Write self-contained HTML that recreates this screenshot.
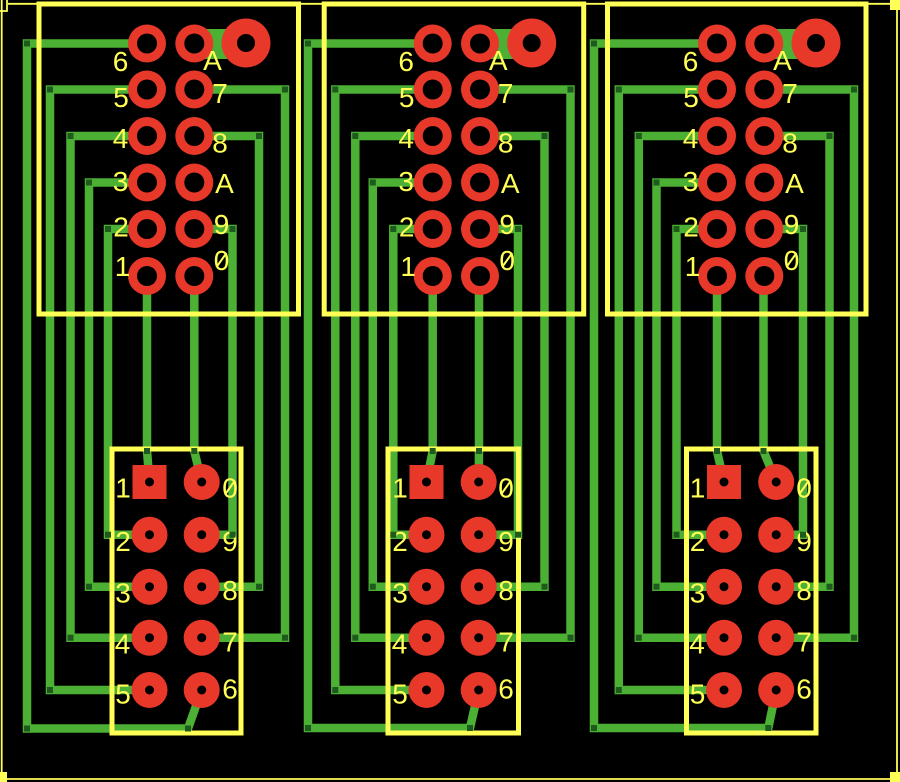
<!DOCTYPE html>
<html><head><meta charset="utf-8"><style>
html,body{margin:0;padding:0;background:#000;}
svg{display:block;}
text{font-family:"Liberation Sans",sans-serif;font-size:28px;fill:#ffff55;text-anchor:middle;}
</style></head><body>
<svg width="900" height="782" viewBox="0 0 900 782" xmlns="http://www.w3.org/2000/svg">
<rect width="900" height="782" fill="#000"/>
<!-- board outline -->
<g stroke="#ffff55" stroke-width="1.8" fill="none">
<line x1="8" y1="3.8" x2="897" y2="3.8"/>
<line x1="1.7" y1="0" x2="1.7" y2="779"/>
<line x1="897" y1="3.8" x2="897" y2="779"/>
<line x1="1.7" y1="779" x2="897" y2="779"/>
<polyline points="7,0 7,11 0,11"/>
</g>
<rect x="890" y="0" width="10" height="10" fill="#ffff55"/>
<rect x="0" y="772" width="7" height="10" fill="#ffff55"/>
<rect x="890" y="772" width="10" height="10" fill="#ffff55"/>

<!-- traces -->
<g stroke="#4cb034" stroke-width="8.5" fill="none" stroke-linejoin="miter" stroke-linecap="square">
<!-- unit 1 -->
<path d="M147,43.5 H27 V728.5 H188 L201.7,690"/>
<path d="M147,89.5 H50 V690 H149.5"/>
<path d="M147,136 H70.5 V637.7 H149.5"/>
<path d="M147,182.5 H89 V586.7 H149.5"/>
<path d="M147,229 H108 V534.7 H149.5"/>
<path d="M194.3,89.5 H285 V637.7 H201.7"/>
<path d="M194.3,136 H259 V586.7 H201.7"/>
<path d="M194.3,229 H232.5 V534.7 H201.7"/>
<path d="M147,276 V451 L149.5,482"/>
<path d="M194.3,276 V451 L201.7,482"/>
<!-- unit 2 -->
<path d="M432.7,43.5 H308 V728 H470 L478.7,690"/>
<path d="M432.7,89.5 H335.3 V690 H426.5"/>
<path d="M432.7,136 H355.3 V637.7 H426.5"/>
<path d="M432.7,182.5 H372.8 V586.7 H426.5"/>
<path d="M432.7,229 H393.3 V534.7 H426.5"/>
<path d="M480,89.5 H570.5 V637.7 H478.7"/>
<path d="M480,136 H544.5 V586.7 H478.7"/>
<path d="M480,229 H518 V534.7 H478.7"/>
<path d="M432.7,276 V451 L426.5,482"/>
<path d="M479,276 V451 L478.7,482"/>
<!-- unit 3 -->
<path d="M717,43.5 H594 V728 H768.3 L776.2,690"/>
<path d="M717,89.5 H618.8 V690 H724"/>
<path d="M717,136 H638.8 V637.7 H724"/>
<path d="M717,182.5 H656.5 V586.7 H724"/>
<path d="M717,229 H676.5 V534.7 H724"/>
<path d="M764.3,89.5 H854 V637.7 H776.2"/>
<path d="M764.3,136 H829.5 V586.7 H776.2"/>
<path d="M764.3,229 H803 V534.7 H776.2"/>
<path d="M717,276 V451 L724,482"/>
<path d="M763.5,276 V451 L776.2,482"/>
</g>

<!-- A to big pad connections -->
<rect x="194" y="29" width="52" height="30" fill="#4cb034"/>
<rect x="480" y="29" width="52" height="30" fill="#4cb034"/>
<rect x="764" y="29" width="52" height="30" fill="#4cb034"/>

<!-- top connector unit 1 -->
<g>
<g fill="#e8382a">
<circle cx="147" cy="43.5" r="19"/><circle cx="194.3" cy="43.5" r="19"/>
<circle cx="147" cy="89.5" r="19"/><circle cx="194.3" cy="89.5" r="19"/>
<circle cx="147" cy="136" r="19"/><circle cx="194.3" cy="136" r="19"/>
<circle cx="147" cy="182.5" r="19"/><circle cx="194.3" cy="182.5" r="19"/>
<circle cx="147" cy="229" r="19"/><circle cx="194.3" cy="229" r="19"/>
<circle cx="147" cy="276" r="19"/><circle cx="194.3" cy="276" r="19"/>
<circle cx="246" cy="43" r="24.5"/>
</g>
<g fill="#000">
<circle cx="147" cy="43.5" r="10"/><circle cx="194.3" cy="43.5" r="10"/>
<circle cx="147" cy="89.5" r="10"/><circle cx="194.3" cy="89.5" r="10"/>
<circle cx="147" cy="136" r="10"/><circle cx="194.3" cy="136" r="10"/>
<circle cx="147" cy="182.5" r="10"/><circle cx="194.3" cy="182.5" r="10"/>
<circle cx="147" cy="229" r="10"/><circle cx="194.3" cy="229" r="10"/>
<circle cx="147" cy="276" r="10"/><circle cx="194.3" cy="276" r="10"/>
<circle cx="246" cy="43" r="9"/>
</g>
<rect x="39" y="4" width="259.5" height="310" fill="none" stroke="#ffff55" stroke-width="5"/>
<text x="120.5" y="71">6</text>
<text x="212.5" y="70">A</text>
<text x="121" y="107">5</text>
<text x="220" y="103">7</text>
<text x="120.5" y="148">4</text>
<text x="220" y="152.5">8</text>
<text x="120.5" y="191">3</text>
<text x="224.5" y="193">A</text>
<text x="121" y="236.5">2</text>
<text x="221.5" y="234">9</text>
<text x="122.5" y="276">1</text>
<text x="221.5" y="270">0</text>
<line x1="216.5" y1="267" x2="226.5" y2="253" stroke="#ffff55" stroke-width="2"/>
</g>

<g transform="translate(285.7,0)">
<g fill="#e8382a">
<circle cx="147" cy="43.5" r="19"/><circle cx="194.3" cy="43.5" r="19"/>
<circle cx="147" cy="89.5" r="19"/><circle cx="194.3" cy="89.5" r="19"/>
<circle cx="147" cy="136" r="19"/><circle cx="194.3" cy="136" r="19"/>
<circle cx="147" cy="182.5" r="19"/><circle cx="194.3" cy="182.5" r="19"/>
<circle cx="147" cy="229" r="19"/><circle cx="194.3" cy="229" r="19"/>
<circle cx="147" cy="276" r="19"/><circle cx="194.3" cy="276" r="19"/>
<circle cx="246" cy="43" r="24.5"/>
</g>
<g fill="#000">
<circle cx="147" cy="43.5" r="10"/><circle cx="194.3" cy="43.5" r="10"/>
<circle cx="147" cy="89.5" r="10"/><circle cx="194.3" cy="89.5" r="10"/>
<circle cx="147" cy="136" r="10"/><circle cx="194.3" cy="136" r="10"/>
<circle cx="147" cy="182.5" r="10"/><circle cx="194.3" cy="182.5" r="10"/>
<circle cx="147" cy="229" r="10"/><circle cx="194.3" cy="229" r="10"/>
<circle cx="147" cy="276" r="10"/><circle cx="194.3" cy="276" r="10"/>
<circle cx="246" cy="43" r="9"/>
</g>
<rect x="38.5" y="4" width="259.5" height="310" fill="none" stroke="#ffff55" stroke-width="5"/>
<text x="120.5" y="71">6</text>
<text x="212.5" y="70">A</text>
<text x="121" y="107">5</text>
<text x="220" y="103">7</text>
<text x="120.5" y="148">4</text>
<text x="220" y="152.5">8</text>
<text x="120.5" y="191">3</text>
<text x="224.5" y="193">A</text>
<text x="121" y="236.5">2</text>
<text x="221.5" y="234">9</text>
<text x="122.5" y="276">1</text>
<text x="221.5" y="270">0</text>
<line x1="216.5" y1="267" x2="226.5" y2="253" stroke="#ffff55" stroke-width="2"/>
</g>

<g transform="translate(570,0)">
<g fill="#e8382a">
<circle cx="147" cy="43.5" r="19"/><circle cx="194.3" cy="43.5" r="19"/>
<circle cx="147" cy="89.5" r="19"/><circle cx="194.3" cy="89.5" r="19"/>
<circle cx="147" cy="136" r="19"/><circle cx="194.3" cy="136" r="19"/>
<circle cx="147" cy="182.5" r="19"/><circle cx="194.3" cy="182.5" r="19"/>
<circle cx="147" cy="229" r="19"/><circle cx="194.3" cy="229" r="19"/>
<circle cx="147" cy="276" r="19"/><circle cx="194.3" cy="276" r="19"/>
<circle cx="246" cy="43" r="24.5"/>
</g>
<g fill="#000">
<circle cx="147" cy="43.5" r="10"/><circle cx="194.3" cy="43.5" r="10"/>
<circle cx="147" cy="89.5" r="10"/><circle cx="194.3" cy="89.5" r="10"/>
<circle cx="147" cy="136" r="10"/><circle cx="194.3" cy="136" r="10"/>
<circle cx="147" cy="182.5" r="10"/><circle cx="194.3" cy="182.5" r="10"/>
<circle cx="147" cy="229" r="10"/><circle cx="194.3" cy="229" r="10"/>
<circle cx="147" cy="276" r="10"/><circle cx="194.3" cy="276" r="10"/>
<circle cx="246" cy="43" r="9"/>
</g>
<rect x="37.5" y="4" width="258.5" height="310" fill="none" stroke="#ffff55" stroke-width="5"/>
<text x="120.5" y="71">6</text>
<text x="212.5" y="70">A</text>
<text x="121" y="107">5</text>
<text x="220" y="103">7</text>
<text x="120.5" y="148">4</text>
<text x="220" y="152.5">8</text>
<text x="120.5" y="191">3</text>
<text x="224.5" y="193">A</text>
<text x="121" y="236.5">2</text>
<text x="221.5" y="234">9</text>
<text x="122.5" y="276">1</text>
<text x="221.5" y="270">0</text>
<line x1="216.5" y1="267" x2="226.5" y2="253" stroke="#ffff55" stroke-width="2"/>
</g>

<!-- bottom connectors -->
<g>
<g fill="#e8382a">
<rect x="132.5" y="465" width="34" height="34"/><circle cx="201.7" cy="482" r="18"/>
<circle cx="149.5" cy="534.7" r="18"/><circle cx="201.7" cy="534.7" r="18"/>
<circle cx="149.5" cy="586.7" r="18"/><circle cx="201.7" cy="586.7" r="18"/>
<circle cx="149.5" cy="637.7" r="18"/><circle cx="201.7" cy="637.7" r="18"/>
<circle cx="149.5" cy="690" r="18"/><circle cx="201.7" cy="690" r="18"/>
</g>
<g fill="#000">
<circle cx="149.5" cy="482" r="4.5"/><circle cx="201.7" cy="482" r="4.5"/>
<circle cx="149.5" cy="534.7" r="4.5"/><circle cx="201.7" cy="534.7" r="4.5"/>
<circle cx="149.5" cy="586.7" r="4.5"/><circle cx="201.7" cy="586.7" r="4.5"/>
<circle cx="149.5" cy="637.7" r="4.5"/><circle cx="201.7" cy="637.7" r="4.5"/>
<circle cx="149.5" cy="690" r="4.5"/><circle cx="201.7" cy="690" r="4.5"/>
</g>
<rect x="112" y="449" width="129" height="284" fill="none" stroke="#ffff55" stroke-width="5"/>
<text x="123" y="497.5">1</text><text x="230" y="497.5">0</text>
<line x1="225" y1="494.5" x2="235" y2="480.5" stroke="#ffff55" stroke-width="2"/>
<text x="123" y="551">2</text><text x="230" y="551">9</text>
<text x="123" y="602.5">3</text><text x="230" y="600">8</text>
<text x="122.5" y="653.5">4</text><text x="230" y="651.5">7</text>
<text x="123" y="703.5">5</text><text x="230" y="698.5">6</text>
</g>

<g transform="translate(277,0)">
<g fill="#e8382a">
<rect x="132.5" y="465" width="34" height="34"/><circle cx="201.7" cy="482" r="18"/>
<circle cx="149.5" cy="534.7" r="18"/><circle cx="201.7" cy="534.7" r="18"/>
<circle cx="149.5" cy="586.7" r="18"/><circle cx="201.7" cy="586.7" r="18"/>
<circle cx="149.5" cy="637.7" r="18"/><circle cx="201.7" cy="637.7" r="18"/>
<circle cx="149.5" cy="690" r="18"/><circle cx="201.7" cy="690" r="18"/>
</g>
<g fill="#000">
<circle cx="149.5" cy="482" r="4.5"/><circle cx="201.7" cy="482" r="4.5"/>
<circle cx="149.5" cy="534.7" r="4.5"/><circle cx="201.7" cy="534.7" r="4.5"/>
<circle cx="149.5" cy="586.7" r="4.5"/><circle cx="201.7" cy="586.7" r="4.5"/>
<circle cx="149.5" cy="637.7" r="4.5"/><circle cx="201.7" cy="637.7" r="4.5"/>
<circle cx="149.5" cy="690" r="4.5"/><circle cx="201.7" cy="690" r="4.5"/>
</g>
<rect x="111" y="449" width="130.5" height="284" fill="none" stroke="#ffff55" stroke-width="5"/>
<text x="123" y="497.5">1</text><text x="229" y="497.5">0</text>
<line x1="224" y1="494.5" x2="234" y2="480.5" stroke="#ffff55" stroke-width="2"/>
<text x="123" y="551">2</text><text x="229" y="551">9</text>
<text x="123" y="602.5">3</text><text x="229" y="600">8</text>
<text x="122.5" y="653.5">4</text><text x="229" y="651.5">7</text>
<text x="123" y="703.5">5</text><text x="229" y="698.5">6</text>
</g>

<g transform="translate(574.5,0)">
<g fill="#e8382a">
<rect x="132.5" y="465" width="34" height="34"/><circle cx="201.7" cy="482" r="18"/>
<circle cx="149.5" cy="534.7" r="18"/><circle cx="201.7" cy="534.7" r="18"/>
<circle cx="149.5" cy="586.7" r="18"/><circle cx="201.7" cy="586.7" r="18"/>
<circle cx="149.5" cy="637.7" r="18"/><circle cx="201.7" cy="637.7" r="18"/>
<circle cx="149.5" cy="690" r="18"/><circle cx="201.7" cy="690" r="18"/>
</g>
<g fill="#000">
<circle cx="149.5" cy="482" r="4.5"/><circle cx="201.7" cy="482" r="4.5"/>
<circle cx="149.5" cy="534.7" r="4.5"/><circle cx="201.7" cy="534.7" r="4.5"/>
<circle cx="149.5" cy="586.7" r="4.5"/><circle cx="201.7" cy="586.7" r="4.5"/>
<circle cx="149.5" cy="637.7" r="4.5"/><circle cx="201.7" cy="637.7" r="4.5"/>
<circle cx="149.5" cy="690" r="4.5"/><circle cx="201.7" cy="690" r="4.5"/>
</g>
<rect x="112" y="449" width="129.5" height="284" fill="none" stroke="#ffff55" stroke-width="5"/>
<text x="123" y="497.5">1</text><text x="229.5" y="497.5">0</text>
<line x1="224.5" y1="494.5" x2="234.5" y2="480.5" stroke="#ffff55" stroke-width="2"/>
<text x="123" y="551">2</text><text x="229.5" y="551">9</text>
<text x="123" y="602.5">3</text><text x="229.5" y="600">8</text>
<text x="122.5" y="653.5">4</text><text x="229.5" y="651.5">7</text>
<text x="123" y="703.5">5</text><text x="229.5" y="698.5">6</text>
</g>

<!-- vias -->
<g fill="#1e5a1e">
<!-- unit1 -->
<rect x="24" y="40.5" width="6" height="6"/><rect x="47" y="86.5" width="6" height="6"/>
<rect x="67.5" y="133" width="6" height="6"/><rect x="86" y="179.5" width="6" height="6"/>
<rect x="105" y="226" width="6" height="6"/><rect x="282" y="86.5" width="6" height="6"/>
<rect x="256" y="133" width="6" height="6"/><rect x="229.5" y="226" width="6" height="6"/>
<rect x="24" y="725.5" width="6" height="6"/><rect x="47" y="687" width="6" height="6"/>
<rect x="67.5" y="634.7" width="6" height="6"/><rect x="86" y="583.7" width="6" height="6"/>
<rect x="105" y="531.7" width="6" height="6"/><rect x="282" y="634.7" width="6" height="6"/>
<rect x="256" y="583.7" width="6" height="6"/><rect x="229.5" y="531.7" width="6" height="6"/>
<rect x="144" y="448" width="6" height="6"/><rect x="191.3" y="448" width="6" height="6"/>
<rect x="185" y="725.5" width="6" height="6"/>
<!-- unit2 -->
<rect x="305" y="40.5" width="6" height="6"/><rect x="332.3" y="86.5" width="6" height="6"/>
<rect x="352.3" y="133" width="6" height="6"/><rect x="369.8" y="179.5" width="6" height="6"/>
<rect x="390.3" y="226" width="6" height="6"/><rect x="567.5" y="86.5" width="6" height="6"/>
<rect x="541.5" y="133" width="6" height="6"/><rect x="515" y="226" width="6" height="6"/>
<rect x="305" y="725" width="6" height="6"/><rect x="332.3" y="687" width="6" height="6"/>
<rect x="352.3" y="634.7" width="6" height="6"/><rect x="369.8" y="583.7" width="6" height="6"/>
<rect x="390.3" y="531.7" width="6" height="6"/><rect x="567.5" y="634.7" width="6" height="6"/>
<rect x="541.5" y="583.7" width="6" height="6"/><rect x="515" y="531.7" width="6" height="6"/>
<rect x="429.7" y="448" width="6" height="6"/><rect x="476" y="448" width="6" height="6"/>
<rect x="467" y="725" width="6" height="6"/>
<!-- unit3 -->
<rect x="591" y="40.5" width="6" height="6"/><rect x="615.8" y="86.5" width="6" height="6"/>
<rect x="635.8" y="133" width="6" height="6"/><rect x="653.5" y="179.5" width="6" height="6"/>
<rect x="673.5" y="226" width="6" height="6"/><rect x="851" y="86.5" width="6" height="6"/>
<rect x="826.5" y="133" width="6" height="6"/><rect x="800" y="226" width="6" height="6"/>
<rect x="591" y="725" width="6" height="6"/><rect x="615.8" y="687" width="6" height="6"/>
<rect x="635.8" y="634.7" width="6" height="6"/><rect x="653.5" y="583.7" width="6" height="6"/>
<rect x="673.5" y="531.7" width="6" height="6"/><rect x="851" y="634.7" width="6" height="6"/>
<rect x="826.5" y="583.7" width="6" height="6"/><rect x="800" y="531.7" width="6" height="6"/>
<rect x="714" y="448" width="6" height="6"/><rect x="760.5" y="448" width="6" height="6"/>
<rect x="765.3" y="725" width="6" height="6"/>
</g>
</svg>
</body></html>
